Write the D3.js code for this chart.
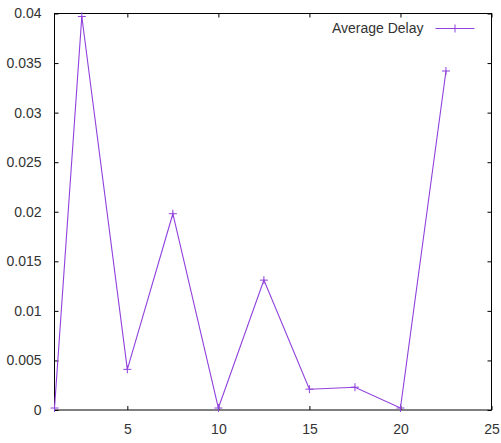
<!DOCTYPE html>
<html>
<head>
<meta charset="utf-8">
<script src="https://cdn.jsdelivr.net/npm/d3@7"></script>
<style>
  body { margin: 0; background: #fff; }
  text { font-family: "Liberation Sans", Arial, sans-serif; font-size: 14px; fill: #333; }
</style>
</head>
<body>
<div id="chart"></div>
<script>
// data
var xValues = [1, 2.5, 5, 7.5, 10, 12.5, 15, 17.5, 20, 22.5];
var delayValues = [0.0002, 0.0397, 0.0041, 0.0198, 0.0002, 0.0131, 0.0021, 0.0023, 0.0002, 0.0342];
var xTicks = [5, 10, 15, 20, 25];
var yTicks = [0, 0.005, 0.01, 0.015, 0.02, 0.025, 0.03, 0.035, 0.04];
var seriesName = "Average Delay";

var margin = {top: 13.5, right: 9.5, bottom: 33, left: 54.5},
    width = 501 - margin.left - margin.right,
    height = 443 - margin.top - margin.bottom;

var svg = d3.select("#chart")
  .append("svg")
    .attr("width", 501)
    .attr("height", 443)
  .append("g")
    .attr("transform", "translate(" + margin.left + "," + margin.top + ")");

var x = d3.scaleLinear().domain([1, 25]).range([0, width]);
var y = d3.scaleLinear().domain([0, 0.04]).range([height, 0]);

var color = "#9040dc";
var tickLen = 4;

// ticks on all four sides, pointing inward (gnuplot style)
svg.append("g")
  .attr("transform", "translate(0," + height + ")")
  .call(d3.axisBottom(x).tickValues(xTicks).tickSize(-tickLen).tickPadding(14).tickFormat(d3.format("d")))
  .call(function(g){ g.select(".domain").remove(); });
svg.append("g")
  .call(d3.axisTop(x).tickValues(xTicks).tickSize(-tickLen).tickFormat(""))
  .call(function(g){ g.select(".domain").remove(); });
svg.append("g")
  .call(d3.axisLeft(y).tickValues(yTicks).tickSize(-tickLen).tickPadding(13).tickFormat(function(d){ return d3.format("")(+d.toFixed(3)); }))
  .call(function(g){ g.select(".domain").remove(); });
svg.append("g")
  .attr("transform", "translate(" + width + ",0)")
  .call(d3.axisRight(y).tickValues(yTicks).tickSize(-tickLen).tickFormat(""))
  .call(function(g){ g.select(".domain").remove(); });

svg.selectAll(".tick line").attr("stroke", "#000");
svg.selectAll(".tick text").style("font-size", "14px").attr("fill", "#333");

// frame
svg.append("rect")
  .attr("width", width)
  .attr("height", height)
  .attr("fill", "none")
  .attr("stroke", "#000")
  .attr("stroke-width", 1);

var points = xValues.map(function(d, i){ return [d, delayValues[i]]; });

svg.append("path")
  .datum(points)
  .attr("fill", "none")
  .attr("stroke", color)
  .attr("stroke-width", 1.1)
  .attr("d", d3.line().x(function(d){ return x(d[0]); }).y(function(d){ return y(d[1]); }));

var plus = function(cx, cy){
  return "M" + (cx - 4) + "," + cy + "H" + (cx + 4) + "M" + cx + "," + (cy - 4) + "V" + (cy + 4);
};

svg.selectAll("path.pt")
  .data(points)
  .enter().append("path")
    .attr("class", "pt")
    .attr("stroke", color)
    .attr("stroke-width", 1)
    .attr("d", function(d){ return plus(x(d[0]), y(d[1])); });

// legend
var lg = svg.append("g").attr("transform", "translate(" + (width - 56) + ",15)");
lg.append("text")
  .attr("x", -12)
  .attr("y", 0)
  .attr("dy", "0.35em")
  .attr("text-anchor", "end")
  .text(seriesName);
lg.append("line")
  .attr("x1", 0).attr("x2", 39)
  .attr("stroke", color).attr("stroke-width", 1.1);
lg.append("path")
  .attr("stroke", color)
  .attr("d", plus(19.5, 0));
</script>
</body>
</html>
